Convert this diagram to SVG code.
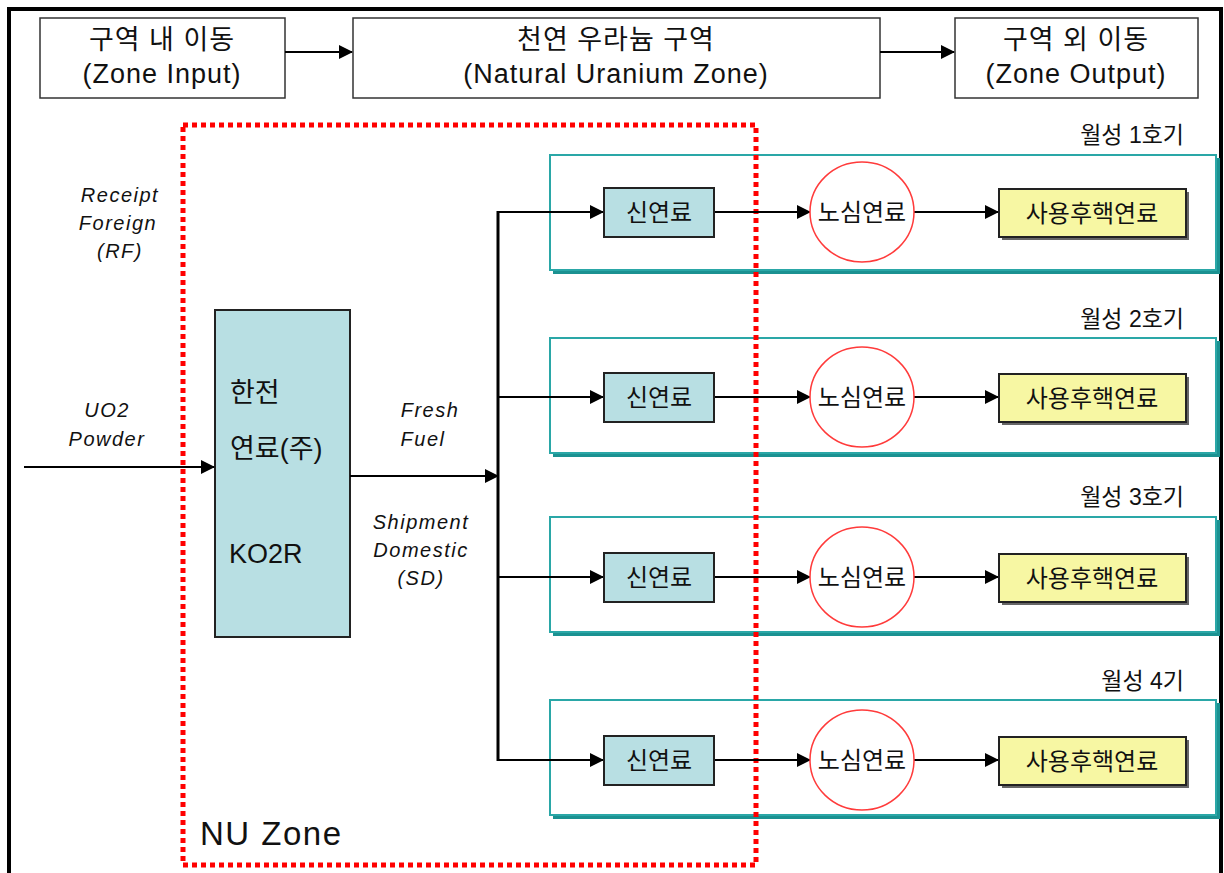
<svg xmlns="http://www.w3.org/2000/svg" width="1224" height="873" viewBox="0 0 1224 873">
<defs>
<marker id="ahL" markerWidth="14" markerHeight="14" refX="13" refY="7" orient="auto" markerUnits="userSpaceOnUse" viewBox="0 0 14 14">
<path d="M0,0 L14,7 L0,14 Z" fill="#000"/>
</marker>
<style>
text{font-family:"Liberation Sans","Noto Sans CJK KR",sans-serif;fill:#111;}
.hdr{fill:#fff;stroke:#333;stroke-width:1.5;}
.ht{font-size:27px;text-anchor:middle;letter-spacing:1px;}
.pan{fill:#fff;stroke:#2aa7a7;stroke-width:2;}
.pansh{fill:#1b9191;}
.fresh{fill:#b8dfe3;stroke:#222;stroke-width:2;}
.spent{fill:#f7f7a3;stroke:#222;stroke-width:2;}
.sh{fill:#666;}
.core{fill:#fff;stroke:#ff3b3b;stroke-width:1.5;}
.nt{font-size:24px;text-anchor:middle;}
.lbl{font-size:23px;text-anchor:end;}
.it{font-size:20px;font-style:italic;text-anchor:middle;letter-spacing:1.5px;}
.big{font-size:27px;}
.ln{stroke:#000;stroke-width:2;fill:none;}
</style>
</defs>
<rect width="1224" height="873" fill="#fff"/>
<rect x="9" y="9" width="1212" height="900" fill="none" stroke="#000" stroke-width="4"/>

<g id="zone-input"><rect class="hdr" x="40" y="18" width="245" height="80"/><text class="ht" x="162" y="49">구역 내 이동</text><text class="ht" x="162" y="83">(Zone Input)</text></g>
<g id="nu-zone-header"><rect class="hdr" x="353" y="18" width="527" height="80"/><text class="ht" x="616" y="49">천연 우라늄 구역</text><text class="ht" x="616" y="83">(Natural Uranium Zone)</text></g>
<g id="zone-output"><rect class="hdr" x="955" y="18" width="243" height="80"/><text class="ht" x="1076" y="49">구역 외 이동</text><text class="ht" x="1076" y="83">(Zone Output)</text></g>

<g id="panels">
<rect class="pansh" x="553" y="158" width="667" height="116"/><rect class="pan" x="550" y="155" width="666" height="115"/>
<rect class="pansh" x="553" y="341" width="667" height="116"/><rect class="pan" x="550" y="338" width="666" height="115"/>
<rect class="pansh" x="553" y="520" width="667" height="116"/><rect class="pan" x="550" y="517" width="666" height="115"/>
<rect class="pansh" x="553" y="703" width="667" height="116"/><rect class="pan" x="550" y="700" width="666" height="115"/>
<text class="lbl" x="1184" y="143">월성 1호기</text>
<text class="lbl" x="1184" y="327">월성 2호기</text>
<text class="lbl" x="1184" y="505">월성 3호기</text>
<text class="lbl" x="1184" y="689">월성 4기</text>
</g>

<g id="nu-zone">
<rect x="183" y="125" width="573" height="740" fill="none" stroke="#f00" stroke-width="5" stroke-dasharray="5,4"/>
<text x="200" y="845" style="font-size:33px;letter-spacing:1.5px">NU Zone</text>
</g>

<g id="kepco">
<rect x="215" y="310" width="135" height="327" fill="#b8dfe3" stroke="#222" stroke-width="2"/>
<text class="big" x="230" y="402">한전</text>
<text class="big" x="230" y="458">연료(주)</text>
<text class="big" x="229" y="563">KO2R</text>
</g>

<g id="labels">
<text class="it" x="120" y="202">Receipt</text>
<text class="it" x="118" y="230">Foreign</text>
<text class="it" x="120" y="258">(RF)</text>
<text class="it" x="107" y="417">UO2</text>
<text class="it" x="107" y="446">Powder</text>
<text class="it" x="430" y="417">Fresh</text>
<text class="it" x="423" y="446">Fuel</text>
<text class="it" x="421" y="529">Shipment</text>
<text class="it" x="421" y="557">Domestic</text>
<text class="it" x="421" y="585">(SD)</text>
</g>

<g id="connectors">
<line class="ln" x1="285" y1="52" x2="352" y2="52" marker-end="url(#ahL)"/>
<line class="ln" x1="880" y1="52" x2="954" y2="52" marker-end="url(#ahL)"/>
<line class="ln" x1="24" y1="467" x2="214" y2="467" marker-end="url(#ahL)"/>
<line class="ln" x1="350" y1="476" x2="498" y2="476" marker-end="url(#ahL)"/>
<line x1="498" y1="211" x2="498" y2="761" stroke="#000" stroke-width="3"/>
<line class="ln" x1="498" y1="212" x2="603" y2="212" marker-end="url(#ahL)"/>
<line class="ln" x1="498" y1="397" x2="603" y2="397" marker-end="url(#ahL)"/>
<line class="ln" x1="498" y1="577" x2="603" y2="577" marker-end="url(#ahL)"/>
<line class="ln" x1="498" y1="760" x2="603" y2="760" marker-end="url(#ahL)"/>
<line class="ln" x1="714" y1="212" x2="810" y2="212" marker-end="url(#ahL)"/>
<line class="ln" x1="714" y1="397" x2="810" y2="397" marker-end="url(#ahL)"/>
<line class="ln" x1="714" y1="577" x2="810" y2="577" marker-end="url(#ahL)"/>
<line class="ln" x1="714" y1="760" x2="810" y2="760" marker-end="url(#ahL)"/>
<line class="ln" x1="914" y1="212" x2="998" y2="212" marker-end="url(#ahL)"/>
<line class="ln" x1="914" y1="397" x2="998" y2="397" marker-end="url(#ahL)"/>
<line class="ln" x1="914" y1="577" x2="998" y2="577" marker-end="url(#ahL)"/>
<line class="ln" x1="914" y1="760" x2="998" y2="760" marker-end="url(#ahL)"/>
</g>

<g id="fresh1"><rect class="fresh" x="604" y="188" width="110" height="49"/><text class="nt" x="659" y="221">신연료</text></g>
<g id="core1"><ellipse class="core" cx="862" cy="212" rx="52" ry="50"/><text class="nt" x="862" y="221">노심연료</text></g>
<g id="spent1"><rect class="sh" x="1002" y="192" width="187" height="48"/><rect class="spent" x="999" y="189" width="187" height="48"/><text class="nt" x="1092" y="222">사용후핵연료</text></g>

<g id="fresh2"><rect class="fresh" x="604" y="373" width="110" height="49"/><text class="nt" x="659" y="406">신연료</text></g>
<g id="core2"><ellipse class="core" cx="862" cy="397" rx="52" ry="50"/><text class="nt" x="862" y="406">노심연료</text></g>
<g id="spent2"><rect class="sh" x="1002" y="377" width="187" height="48"/><rect class="spent" x="999" y="374" width="187" height="48"/><text class="nt" x="1092" y="407">사용후핵연료</text></g>

<g id="fresh3"><rect class="fresh" x="604" y="553" width="110" height="49"/><text class="nt" x="659" y="586">신연료</text></g>
<g id="core3"><ellipse class="core" cx="862" cy="577" rx="52" ry="50"/><text class="nt" x="862" y="586">노심연료</text></g>
<g id="spent3"><rect class="sh" x="1002" y="557" width="187" height="48"/><rect class="spent" x="999" y="554" width="187" height="48"/><text class="nt" x="1092" y="587">사용후핵연료</text></g>

<g id="fresh4"><rect class="fresh" x="604" y="736" width="110" height="49"/><text class="nt" x="659" y="769">신연료</text></g>
<g id="core4"><ellipse class="core" cx="862" cy="760" rx="52" ry="50"/><text class="nt" x="862" y="769">노심연료</text></g>
<g id="spent4"><rect class="sh" x="1002" y="740" width="187" height="48"/><rect class="spent" x="999" y="737" width="187" height="48"/><text class="nt" x="1092" y="770">사용후핵연료</text></g>
</svg>
